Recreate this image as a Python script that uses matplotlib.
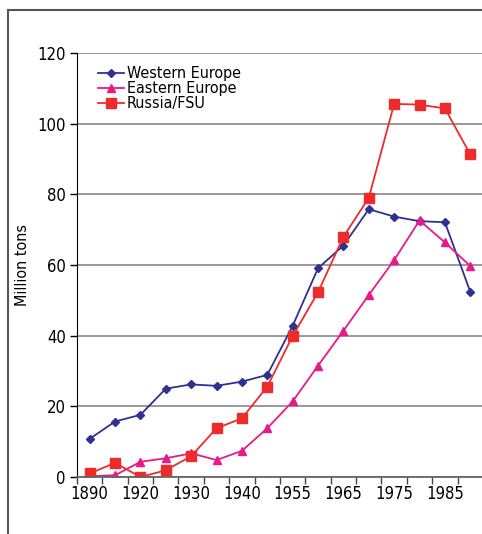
import matplotlib
matplotlib.use("Agg")
from matplotlib import pyplot as plt
from matplotlib.patches import Rectangle
import numpy as np

plt.rcParams['font.family'] = ['DejaVu Sans']
plt.rcParams['font.stretch'] = 'condensed'

# Category axis (every other label shown)
years = ["1890", "", "1920", "", "1930", "", "1940", "",
         "1955", "", "1965", "", "1975", "", "1985", ""]

western = [10.8, 15.7, 17.6, 25.0, 26.2, 25.8, 27.0, 28.9,
           42.8, 59.1, 65.5, 75.8, 73.7, 72.4, 72.1, 52.4]
eastern = [0.2, 0.5, 4.3, 5.3, 6.7, 4.8, 7.4, 13.8,
           21.4, 31.5, 41.4, 51.5, 61.4, 72.6, 66.4, 59.7]
russia = [1.0, 4.0, 0.0, 1.9, 5.9, 13.8, 16.6, 25.6,
          39.9, 52.3, 68.0, 79.0, 105.6, 105.4, 104.3, 91.3]

x = np.arange(len(years))

fig = plt.figure(figsize=(4.82, 5.34), dpi=100)

# outer frame (cut off at right and bottom)
fig.patches.append(Rectangle((8 / 482, -0.05), 1.1, 1 - 10 / 534 + 0.05,
                             transform=fig.transFigure, fill=False,
                             edgecolor='#555555', linewidth=1.5))

ax = fig.add_axes([77 / 482, 57 / 534, 1 - 77 / 482 + 0.002, 424 / 534])

ax.plot(x, western, color='#2E3192', marker='D', markersize=4.5, linewidth=1.3,
        label='Western Europe')
ax.plot(x, eastern, color='#E8198B', marker='^', markersize=6, linewidth=1.3,
        label='Eastern Europe')
ax.plot(x, russia, color='#EE2B2B', marker='s', markersize=7, linewidth=1.3,
        label='Russia/FSU')

ax.set_xlim(-0.5, len(years) - 0.5)
ax.set_ylim(0, 120)
ax.set_yticks(range(0, 121, 20))
ax.tick_params(axis='y', direction='out', length=5, width=1, labelsize=12,
               pad=3)

ax.set_xticks(x)
ax.set_xticklabels(years, fontsize=12)
ax.set_xticks(np.arange(-0.5, len(years)), minor=True)
ax.tick_params(axis='x', which='major', length=0, pad=6)
ax.tick_params(axis='x', which='minor', direction='out', length=5, width=1,
               color='#444444')

ax.yaxis.grid(True, color='#888888', linewidth=1.2)
ax.set_axisbelow(True)
for side in ['top', 'right']:
    ax.spines[side].set_visible(False)
ax.spines['left'].set_color('black')
ax.spines['bottom'].set_color('#666666')
ax.spines['bottom'].set_linewidth(1.3)

ax.set_ylabel('Million tons', fontsize=11.5)
ax.yaxis.set_label_coords((30 - 77) / 405, 0.5)

ax.legend(loc='upper left', bbox_to_anchor=(87 / 482, 1 - 55 / 534),
          bbox_transform=fig.transFigure, frameon=False, fontsize=11.5,
          handlelength=1.6, handletextpad=0.2, labelspacing=0.0,
          borderpad=0.2)

fig.savefig('out.png', dpi=100)
